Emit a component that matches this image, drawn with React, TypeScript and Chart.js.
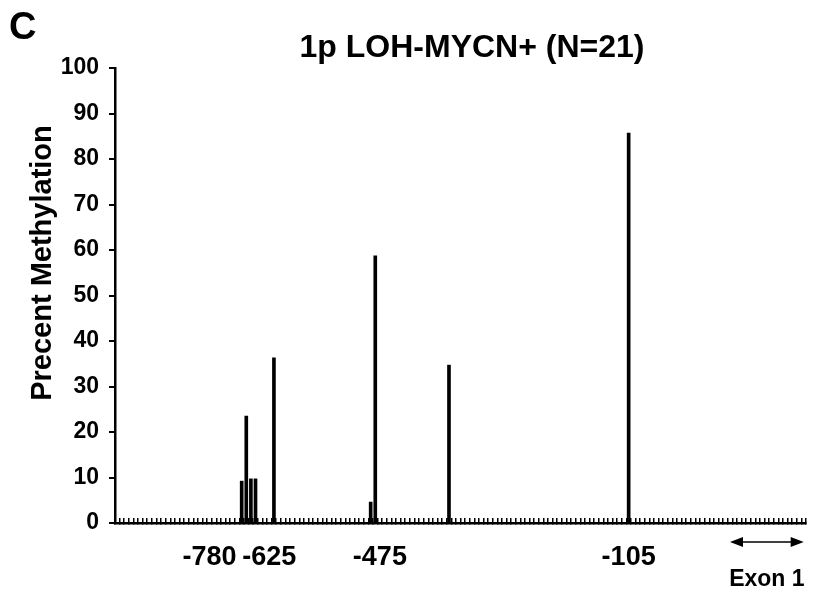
import React, { useEffect, useRef } from "react";
import { Chart, registerables } from "chart.js";

Chart.register(...registerables);

// Number of CpG positions (categories) along the promoter axis
const CATEGORY_COUNT = 150;
// Category index of each measured CpG site
const SITE_INDEX = [27, 28, 29, 30, 34, 55, 56, 72, 111];
// Percent methylation at each site
const METHYLATION = [9.2, 23.5, 9.7, 9.7, 36.3, 4.6, 58.7, 34.7, 85.7];
// Tick labels (bp relative to exon 1) and the category they sit under
const TICK_LABELS = ["-780", "-625", "-475", "-105"];
const TICK_LABEL_INDEX = [20, 33, 57, 111];

const TITLE = "1p LOH-MYCN+ (N=21)";
const PANEL = "C";
const EXON_LABEL = "Exon 1";
const Y_TITLE = "Precent Methylation";
const FONT = "'Liberation Sans', Arial, sans-serif";

export default function App() {
  const ref = useRef<HTMLCanvasElement | null>(null);

  useEffect(() => {
    const canvas = ref.current;
    if (!canvas) return;

    const labels: string[] = Array.from({ length: CATEGORY_COUNT }, () => "");
    TICK_LABEL_INDEX.forEach((idx, i) => {
      labels[idx] = TICK_LABELS[i];
    });
    const data: (number | null)[] = Array.from({ length: CATEGORY_COUNT }, () => null);
    SITE_INDEX.forEach((idx, i) => {
      data[idx] = METHYLATION[i];
    });

    const annotations = {
      id: "annotations",
      afterDraw(chart: any) {
        const ctx = chart.ctx;
        const area = chart.chartArea;
        const xs = chart.scales.x;
        ctx.save();
        ctx.fillStyle = "#000";
        ctx.strokeStyle = "#000";
        // panel letter
        ctx.font = `bold 38px ${FONT}`;
        ctx.textAlign = "left";
        ctx.textBaseline = "alphabetic";
        ctx.fillText(PANEL, 9, 39);
        // title
        ctx.font = `bold 32px ${FONT}`;
        ctx.textAlign = "center";
        ctx.fillText(TITLE, 472, 57);
        // y-axis title
        ctx.save();
        ctx.translate(51, 263);
        ctx.rotate(-Math.PI / 2);
        ctx.font = `bold 29px ${FONT}`;
        ctx.textAlign = "center";
        ctx.fillText(Y_TITLE, 0, 0);
        ctx.restore();
        // exon arrow
        const x1 = xs.getPixelForValue(133);
        const x2 = xs.getPixelForValue(149);
        const ay = area.bottom + 19;
        ctx.lineWidth = 1.5;
        ctx.beginPath();
        ctx.moveTo(x1 + 4, ay);
        ctx.lineTo(x2 - 4, ay);
        ctx.stroke();
        const head = (x: number, dir: number) => {
          ctx.beginPath();
          ctx.moveTo(x, ay);
          ctx.lineTo(x - dir * 13, ay - 5);
          ctx.lineTo(x - dir * 13, ay + 5);
          ctx.closePath();
          ctx.fill();
        };
        head(x1, -1);
        head(x2, 1);
        ctx.font = `bold 23px ${FONT}`;
        ctx.textAlign = "center";
        ctx.fillText(EXON_LABEL, (x1 + x2) / 2, area.bottom + 63);
        ctx.restore();
      },
    };

    const chart = new Chart(canvas, {
      type: "bar",
      data: {
        labels,
        datasets: [
          {
            data,
            backgroundColor: "#000",
            borderWidth: 0,
            barThickness: 3,
          },
        ],
      },
      options: {
        responsive: false,
        animation: false,
        layout: { padding: { left: 20, right: 8, top: 68, bottom: 0 } },
        plugins: {
          legend: { display: false },
          tooltip: { enabled: false },
          title: { display: false },
        },
        scales: {
          x: {
            type: "category",
            offset: true,
            grid: {
              display: true,
              offset: true,
              drawOnChartArea: false,
              drawTicks: true,
              tickLength: -5,
              color: "#000",
              lineWidth: 1.5,
            },
            border: { display: true, color: "#000", width: 2.5 },
            ticks: {
              autoSkip: false,
              maxRotation: 0,
              minRotation: 0,
              padding: 23,
              color: "#000",
              font: { family: FONT, size: 27, weight: "bold" },
            },
            afterFit(scale: any) {
              scale.height = 74;
              scale.paddingLeft = 0;
              scale.paddingRight = 0;
            },
          },
          y: {
            min: 0,
            max: 100,
            ticks: {
              stepSize: 10,
              padding: 10,
              color: "#000",
              font: { family: FONT, size: 23, weight: "bold" },
            },
            grid: {
              display: true,
              drawOnChartArea: false,
              drawTicks: true,
              tickLength: 6,
              color: "#000",
              lineWidth: 2,
            },
            border: { display: true, color: "#000", width: 2.5 },
            title: { display: false },
            afterFit(scale: any) {
              scale.width = 95;
            },
          },
        },
      },
      plugins: [annotations],
    } as any);

    return () => chart.destroy();
  }, []);

  return (
    <div style={{ position: "fixed", left: 0, top: 0, width: 814, height: 597, background: "#fff" }}>
      <canvas ref={ref} width={814} height={597} style={{ width: 814, height: 597, display: "block" }} />
    </div>
  );
}
